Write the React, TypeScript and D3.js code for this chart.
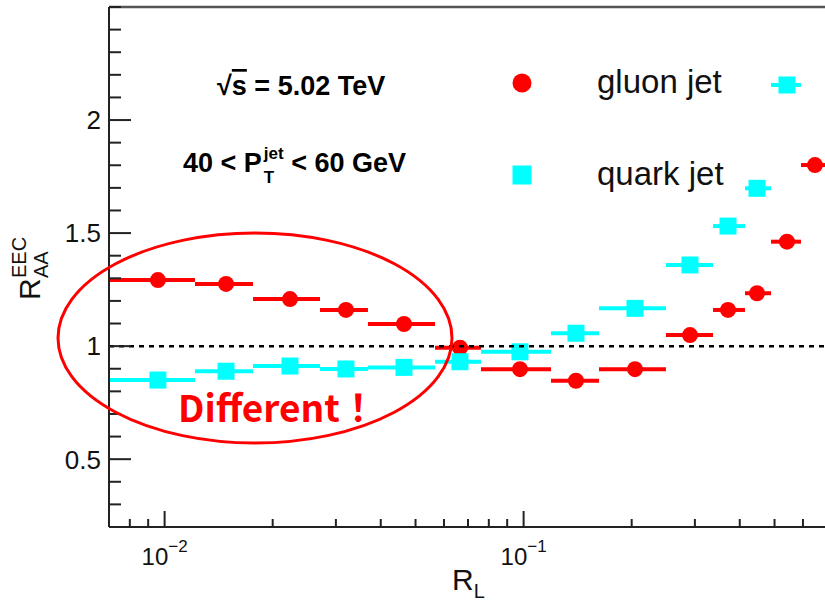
import React from 'react';
import * as d3 from 'd3';

const W = 825;
const H = 604;

// bin edges and centres along R_L (shared by both series)
const binLow = [0.0069, 0.01215, 0.01763, 0.02709, 0.03685, 0.05665, 0.07608, 0.1192, 0.1622, 0.2492, 0.337, 0.4137, 0.4889, 0.5925];
const binHigh = [0.01215, 0.01763, 0.02709, 0.03685, 0.05665, 0.07608, 0.1192, 0.1622, 0.2492, 0.337, 0.4137, 0.4889, 0.5925, 0.714];
const binCenter = [0.00958, 0.01483, 0.02235, 0.032, 0.04643, 0.06649, 0.0977, 0.1399, 0.2043, 0.2907, 0.371, 0.4468, 0.5415, 0.648];

const gluonValues = [1.292, 1.275, 1.208, 1.16, 1.098, 0.993, 0.898, 0.847, 0.898, 1.049, 1.16, 1.234, 1.462, 1.801];
const quarkValues = [0.85, 0.889, 0.912, 0.899, 0.906, 0.931, 0.975, 1.057, 1.167, 1.359, 1.531, 1.698, 2.155];

const yMajorTicks = [0.5, 1, 1.5, 2];
const yTickLabels = ['0.5', '1', '1.5', '2'];
const xMajorTicks = [0.01, 0.1];
const xTickExponents = ['\u22122', '\u22121'];

const legendLabels = ['gluon jet', 'quark jet'];
const RED = '#ff0000';
const CYAN = '#00ffff';
const FONT = "'Liberation Sans', Arial, Helvetica, sans-serif";

export default function App() {
  const x = d3.scaleLog().domain([0.007, 0.7]).range([109, 827]);
  const y = d3.scaleLinear().domain([0.2, 2.5]).range([527, 7]);
  const [x0, x1] = x.range();
  const [yb, yt] = y.range();

  const xMinor = x.ticks().filter((v) => !xMajorTicks.some((m) => Math.abs(m - v) / m < 1e-6));
  const yMinor = y.ticks(23).filter((v) => !yMajorTicks.some((m) => Math.abs(m - v) < 1e-6));

  const gluon = gluonValues.map((v, i) => ({ v, c: binCenter[i], lo: binLow[i], hi: binHigh[i] }));
  const quark = quarkValues.map((v, i) => ({ v, c: binCenter[i], lo: binLow[i], hi: binHigh[i] }));

  return (
    <svg width={W} height={H} style={{ position: 'absolute', left: 0, top: 0, background: '#fff' }} fontFamily={FONT}>
      <defs>
        <clipPath id="plotClip">
          <rect x={x0} y={yt} width={x1 - x0} height={yb - yt} />
        </clipPath>
      </defs>
      <rect x={0} y={0} width={W} height={H} fill="#fff" />

      {/* data */}
      <g clipPath="url(#plotClip)">
        {gluon.map((d, i) => (
          <g key={'g' + i}>
            <line x1={x(d.lo)} x2={x(d.hi)} y1={y(d.v)} y2={y(d.v)} stroke={RED} strokeWidth={4} />
            <circle cx={x(d.c)} cy={y(d.v)} r={8} fill={RED} />
          </g>
        ))}
        {quark.map((d, i) => (
          <g key={'q' + i}>
            <line x1={x(d.lo)} x2={x(d.hi)} y1={y(d.v)} y2={y(d.v)} stroke={CYAN} strokeWidth={4} />
            <rect x={x(d.c) - 8.5} y={y(d.v) - 8.5} width={17} height={17} fill={CYAN} />
          </g>
        ))}
        <line x1={x0} x2={x1} y1={y(1)} y2={y(1)} stroke="#000" strokeWidth={2.5} strokeDasharray="5 5" />
      </g>

      {/* frame */}
      <line x1={x0} x2={x1 + 20} y1={yt} y2={yt} stroke="#555" strokeWidth={2.5} />
      <line x1={x0} x2={x0} y1={yt} y2={yb} stroke="#222" strokeWidth={2} />
      <line x1={x0} x2={x1 + 20} y1={yb} y2={yb} stroke="#222" strokeWidth={2} />

      {/* y ticks */}
      {yMajorTicks.map((v, i) => (
        <g key={'ym' + i}>
          <line x1={x0} x2={x0 + 22} y1={y(v)} y2={y(v)} stroke="#222" strokeWidth={2} />
          <text x={x0 - 8} y={y(v)} dy="0.36em" textAnchor="end" fontSize={26} fill="#111">{yTickLabels[i]}</text>
        </g>
      ))}
      {yMinor.map((v, i) => (
        <line key={'yn' + i} x1={x0} x2={x0 + 12} y1={y(v)} y2={y(v)} stroke="#222" strokeWidth={2} />
      ))}

      {/* x ticks */}
      {xMajorTicks.map((v, i) => (
        <g key={'xm' + i}>
          <line x1={x(v)} x2={x(v)} y1={yb} y2={yb - 16} stroke="#222" strokeWidth={2} />
          <text x={x(v)} y={565} textAnchor="middle" fontSize={24} fill="#111">
            10<tspan fontSize={17} dy={-13}>{xTickExponents[i]}</tspan>
          </text>
        </g>
      ))}
      {xMinor.map((v, i) => (
        <line key={'xn' + i} x1={x(v)} x2={x(v)} y1={yb} y2={yb - 8} stroke="#222" strokeWidth={2} />
      ))}

      {/* axis titles */}
      <text x={452} y={590} fontSize={30} fill="#111">
        R<tspan fontSize={20} dy={8}>L</tspan>
      </text>
      <g transform="translate(40, 300) rotate(-90)">
        <text x={0} y={0} fontSize={30} fill="#111">R</text>
        <text x={22} y={8} fontSize={20} fill="#111">AA</text>
        <text x={22} y={-14} fontSize={20} fill="#111">EEC</text>
      </g>

      {/* annotations */}
      <text x={217} y={95} fontSize={27} fontWeight="bold" fill="#000">
        {'\u221A'}<tspan textDecoration="overline">s</tspan>{' = 5.02 TeV'}
      </text>
      <text x={183} y={172} fontSize={27} fontWeight="bold" fill="#000">
        {'40 < P'}
        <tspan fontSize={17} dx={2} dy={-13}>jet</tspan>
        <tspan fontSize={17} dx={-19.8} dy={24}>T</tspan>
        <tspan dx={17} dy={-11}>{'< 60 GeV'}</tspan>
      </text>

      {/* legend */}
      <circle cx={522} cy={83} r={9.5} fill={RED} />
      <text x={597} y={93} fontSize={33} fill="#111">{legendLabels[0]}</text>
      <rect x={512.5} y={165.5} width={19} height={19} fill={CYAN} />
      <text x={597} y={185} fontSize={33} fill="#111">{legendLabels[1]}</text>

      {/* highlight */}
      <ellipse cx={255} cy={338} rx={197} ry={105} fill="none" stroke={RED} strokeWidth={3} />
      <text x={178} y={422} fontSize={37} fontWeight="bold" fill={RED} fontFamily="'Noto Sans CJK JP', 'Noto Sans CJK SC', sans-serif">
        {'Different\uFF01'}
      </text>
    </svg>
  );
}
